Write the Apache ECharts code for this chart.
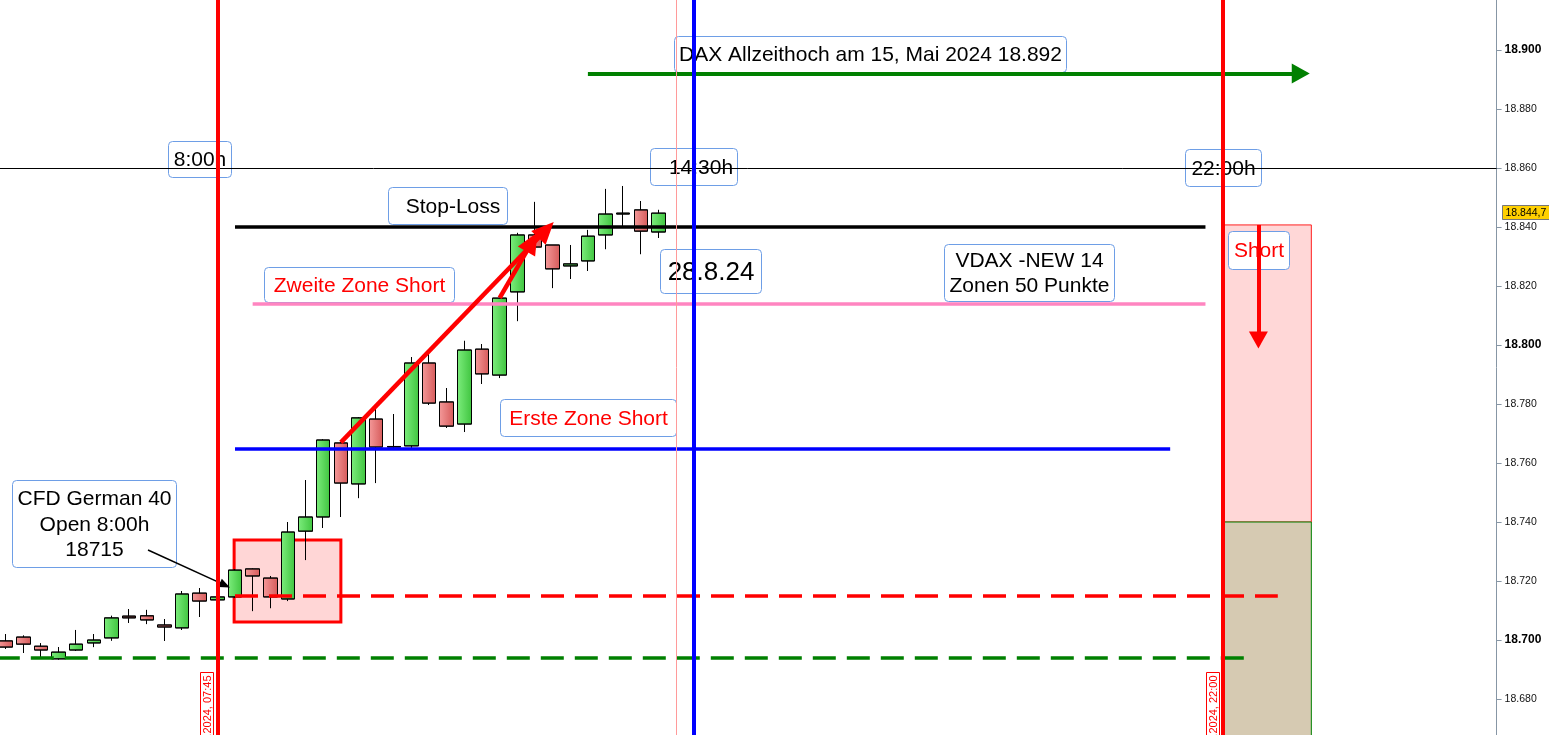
<!DOCTYPE html>
<html lang="de">
<head>
<meta charset="UTF-8" />
<title>DAX 28.8.24</title>
<script src="https://cdn.jsdelivr.net/npm/echarts@6/dist/echarts.min.js"></script>
<style>
  * { margin: 0; padding: 0; }
  html, body { background: #fff; overflow: hidden; }
  #chart { width: 1549px; height: 735px; }
</style>
</head>
<body>
<div id="chart"></div>
<script>
// 15-Minuten-Kerzen, 28.8.24
const times = ["04:45", "05:00", "05:15", "05:30", "05:45", "06:00", "06:15", "06:30", "06:45", "07:00",
  "07:15", "07:30", "07:45", "08:00", "08:15", "08:30", "08:45", "09:00", "09:15", "09:30",
  "09:45", "10:00", "10:15", "10:30", "10:45", "11:00", "11:15", "11:30", "11:45", "12:00",
  "12:15", "12:30", "12:45", "13:00", "13:15", "13:30", "13:45", "14:00"];
const opens = [18699.7, 18701.0, 18697.9, 18693.6, 18696.6, 18699.0, 18700.7, 18708.1, 18708.2, 18705.1,
  18704.1, 18715.9, 18713.6, 18714.6, 18724.1, 18721.0, 18713.9, 18736.9, 18741.7, 18766.8,
  18752.9, 18774.9, 18765.4, 18765.8, 18793.9, 18780.7, 18773.2, 18798.6, 18789.8, 18818.0,
  18837.3, 18833.9, 18826.8, 18828.5, 18837.3, 18844.4, 18845.8, 18838.3];
const closes = [18697.6, 18698.6, 18696.6, 18695.9, 18698.6, 18700.0, 18707.5, 18707.5, 18706.8, 18704.4,
  18715.6, 18713.2, 18714.6, 18723.7, 18721.7, 18714.6, 18736.6, 18741.7, 18767.8, 18753.2,
  18775.3, 18765.4, 18765.6, 18793.9, 18780.3, 18772.5, 18798.3, 18790.2, 18815.9, 18837.3,
  18833.2, 18825.8, 18827.5, 18836.9, 18844.4, 18844.7, 18838.6, 18844.7];
const lows = [18697.0, 18695.6, 18694.2, 18693.4, 18696.3, 18697.6, 18699.8, 18705.8, 18705.4, 18699.7,
  18703.4, 18707.8, 18713.3, 18714.4, 18709.8, 18710.8, 18713.2, 18727.1, 18738.0, 18741.7,
  18748.1, 18753.2, 18764.4, 18765.1, 18779.7, 18771.9, 18770.5, 18786.8, 18788.8, 18808.1,
  18830.2, 18819.3, 18822.4, 18825.1, 18832.5, 18840.3, 18830.8, 18836.3];
const highs = [18702.0, 18701.5, 18698.9, 18697.6, 18703.4, 18702.0, 18708.2, 18710.5, 18710.2, 18707.1,
  18716.6, 18717.6, 18715.0, 18724.0, 18724.2, 18721.7, 18740.0, 18754.2, 18768.0, 18767.0,
  18775.5, 18778.3, 18776.6, 18795.9, 18798.3, 18785.4, 18801.4, 18800.3, 18816.0, 18838.0,
  18848.5, 18833.9, 18833.9, 18839.0, 18852.9, 18853.9, 18848.8, 18845.8];

// Marken (Kurswerte)
const stopLoss = 18840;
const zone2 = 18814;
const zone1 = 18765;
const openLevel = 18715;
const prevLow = 18694;
const athLevel = 18892;
const crossLevel = 18860;
const lastPrice = 18844.7;
const shortTop = 18840.7;
const shortSplit = 18740;

// Zeit-Slots (Index der 15-Min-Kerze)
const slotOpen = 12;   // 07:45 / 8:00h
const slotUS = 39;     // 14:30h
const slotClose = 69;  // 22:00h

const yMin = 18660, yMax = 18920, yStep = 20;
const FONT = 'Arial, "Liberation Sans", sans-serif';

const chart = echarts.init(document.getElementById("chart"));

const up = new echarts.graphic.LinearGradient(0, 0, 1, 0, [
  { offset: 0, color: "#7ded7d" },
  { offset: 1, color: "#3fc43f" },
]);
const down = new echarts.graphic.LinearGradient(0, 0, 1, 0, [
  { offset: 0, color: "#f49a9a" },
  { offset: 1, color: "#d65a5a" },
]);

function seg(a, b, style, head) {
  return [
    { coord: a, symbol: "none", lineStyle: style },
    { coord: b, symbol: head ? "triangle" : "none", symbolSize: head || 0 },
  ];
}

const red = "#ff0000";
const fmt = (v) => (v / 1000).toFixed(3);

chart.setOption({
  animation: false,
  grid: { left: -3.2, right: 52.4, top: -9, bottom: -23, containLabel: false, outerBoundsMode: "none" },
  xAxis: {
    type: "value",
    min: -0.5,
    max: 84.5,
    show: false,
    splitLine: { show: false },
  },
  yAxis: {
    type: "value",
    position: "right",
    min: yMin,
    max: yMax,
    interval: yStep,
    splitLine: { show: false },
    axisLine: { show: true, onZero: false, lineStyle: { color: "#8796a5", width: 1 } },
    axisTick: { show: true, length: 5, lineStyle: { color: "#8796a5" } },
    axisLabel: {
      margin: 8,
      formatter: (v) => (v % 100 === 0 ? "{b|" + fmt(v) + "}" : "{n|" + fmt(v) + "}"),
      rich: {
        b: { fontWeight: "bold", fontSize: 12, color: "#000", fontFamily: FONT },
        n: { fontSize: 10.5, color: "#111", fontFamily: FONT },
      },
    },
  },
  series: [
    {
      type: "candlestick",
      barWidth: 14,
      data: times.map((t, i) => [i, opens[i], closes[i], lows[i], highs[i]]),
      itemStyle: {
        color: up,
        color0: down,
        borderColor: "#000",
        borderColor0: "#000",
        borderWidth: 1,
      },
      markArea: {
        silent: true,
        data: [
          [{ coord: [12.95, 18733.9], itemStyle: { color: "#ffd6d6", borderColor: red, borderWidth: 3 } }, { coord: [19.0, 18706.1] }],
          [{ coord: [slotClose, shortTop], itemStyle: { color: "#ffd7d7", borderColor: "#ff2020", borderWidth: 1 } }, { coord: [74, shortSplit] }],
          [{ coord: [slotClose, shortSplit], itemStyle: { color: "#d6cab2", borderColor: "#008000", borderWidth: 1 } }, { coord: [74, yMin] }],
        ],
      },
      markLine: {
        silent: true,
        symbol: ["none", "none"],
        label: { show: false },
        emphasis: { disabled: true },
        data: [
          { yAxis: crossLevel, lineStyle: { color: "#000", width: 1, type: "solid" } },
          seg([-0.5, prevLow], [70.4, prevLow], { color: "#008000", width: 3.5, type: [23, 11] }),
          seg([13, openLevel], [72.1, openLevel], { color: red, width: 3.5, type: [23, 11] }),
          seg([13, stopLoss], [68, stopLoss], { color: "#000", width: 3.5, type: "solid" }),
          seg([14, zone2], [68, zone2], { color: "#ff85c0", width: 3.5, type: "solid" }),
          seg([13, zone1], [66, zone1], { color: "#0000ff", width: 3.5, type: "solid" }),
          seg([33, athLevel], [73.4, athLevel], { color: "#008000", width: 3.8, type: "solid" }, [20, 18]),
          seg([71, shortTop], [71, 18801.7], { color: red, width: 4, type: "solid" }, [19, 17]),
          seg([19, 18767], [30.63, 18839], { color: red, width: 4.5, type: "solid" }, [20, 22]),
          seg([28, 18816], [29.83, 18834.9], { color: red, width: 4.5, type: "solid" }, [20, 22]),
          seg([8.07, 18730.5], [12.43, 18718.6], { color: "#000", width: 1.5, type: "solid" }, [9, 11]),
          { xAxis: slotUS - 1, lineStyle: { color: "#ff9a9a", width: 1, type: "solid" } },
          { xAxis: slotOpen, lineStyle: { color: red, width: 4, type: "solid" } },
          { xAxis: slotUS, lineStyle: { color: "#0000ff", width: 4, type: "solid" } },
          { xAxis: slotClose, lineStyle: { color: red, width: 4, type: "solid" } },
        ],
      },
    },
  ],
});

// Textfelder, verankert an Kerzen-Slot und Kurs (links oben)
const notes = [
  { text: "8:00h", at: [9.2, 18869.2], w: 63, h: 36 },
  { text: "14:30h", at: [36.52, 18866.8], w: 87, h: 37, dx: 7 },
  { text: "22:00h", at: [66.84, 18866.4], w: 76, h: 37 },
  { text: "DAX Allzeithoch am 15, Mai 2024 18.892", at: [37.88, 18904.7], w: 392, h: 36 },
  { text: "Stop-Loss", at: [21.67, 18853.6], w: 119, h: 37, dx: 5 },
  { text: "Zweite Zone Short", at: [14.64, 18826.4], w: 190, h: 35, color: red },
  { text: "28.8.24", at: [37.09, 18832.5], w: 101, h: 44, size: 26 },
  { text: "VDAX -NEW 14\nZonen 50 Punkte", at: [53.18, 18834.2], w: 170, h: 57 },
  { text: "Erste Zone Short", at: [28.02, 18781.7], w: 176, h: 37, color: red },
  { text: "CFD German 40\nOpen 8:00h\n18715", at: [0.36, 18754.2], w: 164, h: 87, lh: 25.5 },
  { text: "Short", at: [69.28, 18838.6], w: 61, h: 38, color: red },
];
const dateTags = [
  { text: "28.08.2024, 07:45", k: slotOpen },
  { text: "28.08.2024, 22:00", k: slotClose },
];

const px = (k, v) => chart.convertToPixel({ gridIndex: 0 }, [k, v]);
const graphics = [];
notes.forEach((n) => {
  const p = px(n.at[0], n.at[1]);
  graphics.push({
    type: "group",
    x: Math.round(p[0]) + 0.5,
    y: Math.round(p[1]) + 0.5,
    children: [
      { type: "rect", z: 3, shape: { x: 0, y: 0, width: n.w, height: n.h, r: 4 }, style: { fill: "#fff", stroke: "#6e9ee6", lineWidth: 1 } },
      {
        type: "text", z: 4,
        style: {
          text: n.text, x: n.w / 2 + (n.dx || 0), y: n.h / 2 + 1, align: "center", verticalAlign: "middle",
          fontSize: n.size || 21, fontFamily: FONT, fill: n.color || "#000", lineHeight: n.lh || 25,
        },
      },
    ],
  });
});
dateTags.forEach((d) => {
  const p = px(d.k, 18689.2);
  graphics.push({
    type: "group",
    x: Math.round(p[0]) - 10,
    y: Math.round(p[1]) + 0.5,
    rotation: Math.PI / 2,
    children: [
      { type: "rect", z: 3, shape: { x: -160, y: -6.5, width: 160, height: 13 }, style: { fill: "#fff", stroke: red, lineWidth: 1 } },
      { type: "text", z: 4, style: { text: d.text, x: -3, y: 0.5, align: "right", verticalAlign: "middle", fontSize: 11, fontFamily: FONT, fill: red } },
    ],
  });
});
const tag = px(84.5, lastPrice);
graphics.push({
  type: "group",
  x: Math.round(tag[0]) + 5.5,
  y: Math.round(tag[1]) - 7.5,
  children: [
    { type: "rect", z: 6, shape: { x: 0, y: 0, width: 60, height: 14 }, style: { fill: "#ffd000", stroke: "#777", lineWidth: 1 } },
    {
      type: "text", z: 7,
      style: { text: (lastPrice / 1000).toFixed(4).replace(/(\.\d{3})(\d)$/, "$1,$2"), x: 3, y: 7.5, align: "left", verticalAlign: "middle", fontSize: 10.5, fontFamily: FONT, fill: "#000" },
    },
  ],
});
chart.setOption({ graphic: graphics });
</script>
</body>
</html>
